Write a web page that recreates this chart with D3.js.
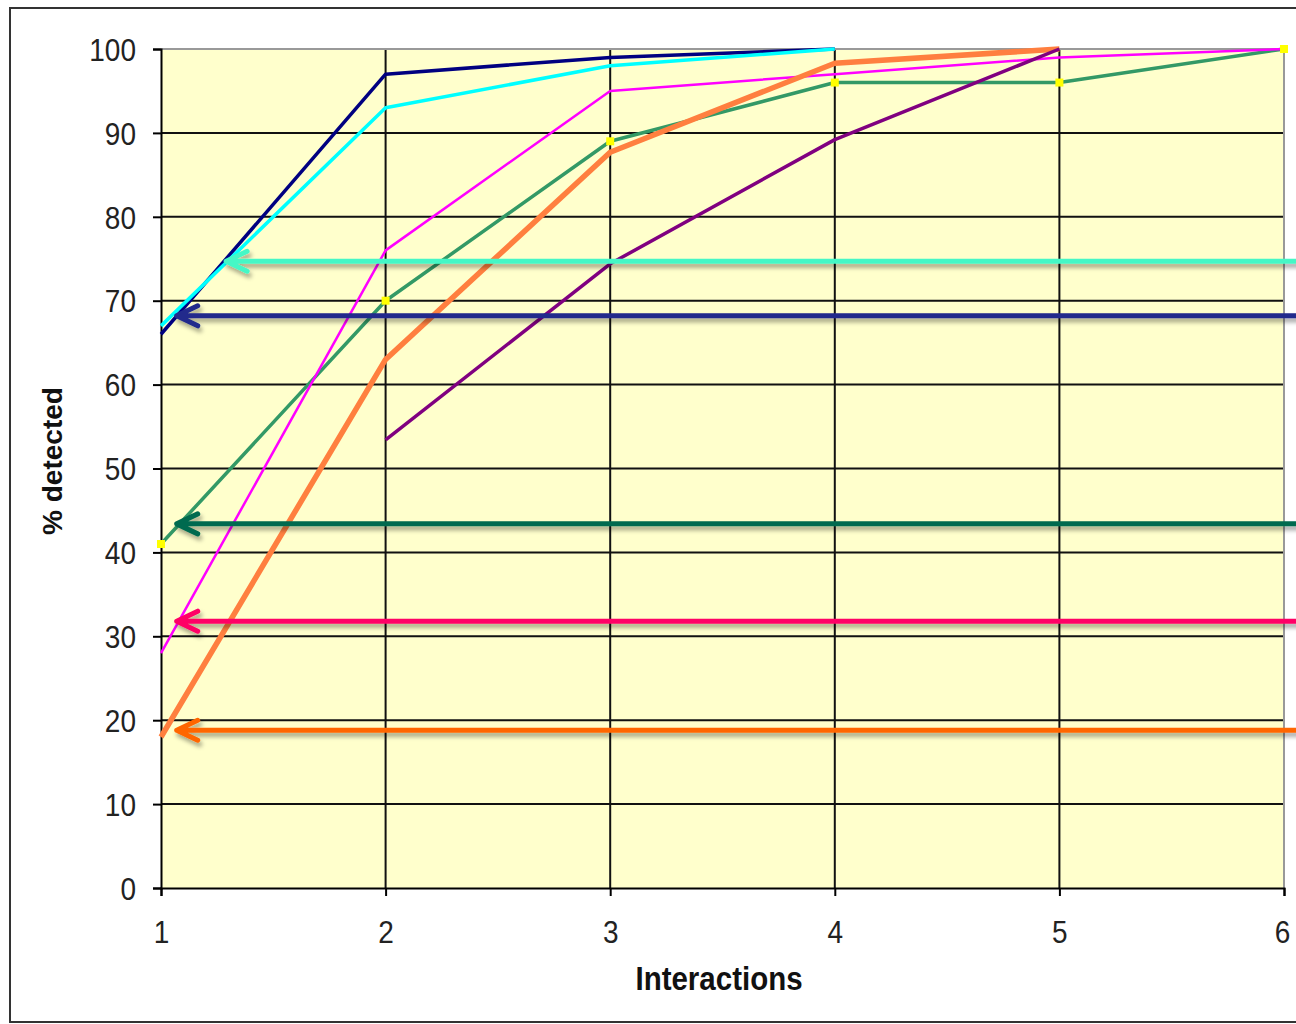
<!DOCTYPE html>
<html><head><meta charset="utf-8">
<script src="https://cdn.jsdelivr.net/npm/d3@7"></script>
<style>html,body{margin:0;padding:0;background:#fff;overflow:hidden}</style>
</head><body>
<svg id="c" width="1296" height="1024"></svg>
<script>
// ---- data ----
const interactions = [1, 2, 3, 4, 5, 6];
const yTicks = [0, 10, 20, 30, 40, 50, 60, 70, 80, 90, 100];
const navySeries    = [66, 97, 99, 100];
const cyanSeries    = [67, 93, 98, 100];
const magentaSeries = [28, 76, 95, 97, 99, 100];
const greenSeries   = [41, 70, 89, 96, 96, 100];
const orangeSeries  = [18, 63, 87.7, 98.3, 100];
const purpleX       = [2, 3, 4, 5];
const purpleSeries  = [53.4, 74.4, 89.2, 100];
// annotation arrows: level (% detected) and tip position (interactions)
const arrowLevels = [74.7, 68.2, 43.4, 31.8, 18.8];
const arrowTips   = [1.29, 1.07, 1.07, 1.07, 1.07];
const arrowColors = ["#44F7C6", "#202A8C", "#006B50", "#FF0066", "#FF6600"];

const svg = d3.select("#c");
const x = d3.scaleLinear().domain([1, 6]).range([161, 1284]);
const y = d3.scaleLinear().domain([0, 100]).range([888, 49]);

const defs = svg.append("defs");
const f = defs.append("filter").attr("id","sh").attr("x","-5%").attr("y","-200%").attr("width","110%").attr("height","500%");
f.append("feDropShadow").attr("dx",2).attr("dy",4).attr("stdDeviation",2.2).attr("flood-color","#000").attr("flood-opacity",0.35);

// outer frame
svg.append("rect").attr("x",10).attr("y",8).attr("width",1300).attr("height",1014)
  .attr("fill","#fff").attr("stroke","#333").attr("stroke-width",2);

// plot background
svg.append("rect").attr("x",x(1)).attr("y",y(100)).attr("width",x(6)-x(1)).attr("height",y(0)-y(100))
  .attr("fill","#FFFFCC");

// grid
const g = svg.append("g");
g.selectAll(".hg").data(yTicks.filter(d=>d>0 && d<100)).enter().append("line")
  .attr("x1",x(1)).attr("x2",x(6)).attr("y1",d=>y(d)).attr("y2",d=>y(d))
  .attr("stroke","#111").attr("stroke-width",2);
g.selectAll(".vg").data(interactions.filter(d=>d>1 && d<6)).enter().append("line")
  .attr("y1",y(0)).attr("y2",y(100)).attr("x1",d=>x(d)).attr("x2",d=>x(d))
  .attr("stroke","#111").attr("stroke-width",2);
// top/right border gray
svg.append("path").attr("d",`M${x(1)},${y(100)}H${x(6)}V${y(0)}`).attr("fill","none").attr("stroke","#999").attr("stroke-width",2);

// axes
const yAxis = d3.axisLeft(y).tickValues(yTicks).tickSize(8).tickFormat(d3.format("d"));
const xAxis = d3.axisBottom(x).tickValues(interactions).tickSize(8).tickFormat(d3.format("d"));
const ya = svg.append("g").attr("transform",`translate(${x(1)},0)`).call(yAxis);
const xa = svg.append("g").attr("transform",`translate(0,${y(0)})`).call(xAxis);
[ya, xa].forEach(a=>{
  a.select(".domain").attr("stroke","#000").attr("stroke-width",2);
  a.selectAll(".tick line").attr("stroke","#000").attr("stroke-width",2);
  a.selectAll("text").attr("font-family","Liberation Sans, Arial, sans-serif").attr("font-size",28).attr("fill","#222");
});
ya.selectAll("text").attr("x",-25).attr("dy",null).attr("y",0).attr("dominant-baseline","central")
  .attr("transform","scale(1,1.15)");
xa.selectAll("text").attr("dy",null).attr("y",0).attr("dominant-baseline","central")
  .attr("transform","translate(0,44) scale(1,1.15)");
xa.selectAll(".tick").filter(d=>d===6).select("text").attr("dx",-2);

// series lines
const line = d3.line().x(d=>x(d[0])).y(d=>y(d[1]));
const pairs = (xs, ys) => ys.map((v,i)=>[xs[i], v]);
const series = [
  {data: pairs(interactions, navySeries), color:"#000080", w:3.5},
  {data: pairs(interactions, cyanSeries), color:"#00FFFF", w:3.5},
  {data: pairs(interactions, greenSeries), color:"#339966", w:3.5},
  {data: pairs(interactions, magentaSeries), color:"#FF00FF", w:2.5},
  {data: pairs(interactions, orangeSeries), color:"#FF7F3F", w:5.5},
  {data: pairs(purpleX, purpleSeries), color:"#800080", w:3.5}
];
series.forEach(s=>{
  svg.append("path").datum(s.data).attr("d",line).attr("fill","none")
    .attr("stroke",s.color).attr("stroke-width",s.w).attr("stroke-linejoin","round");
});
// yellow markers on green series
svg.selectAll(".mk").data(pairs(interactions, greenSeries)).enter().append("rect")
  .attr("x",d=>x(d[0])-4).attr("y",d=>y(d[1])-4).attr("width",8).attr("height",8).attr("fill","#FFFF00");

// annotation arrows
const ag = svg.append("g").attr("filter","url(#sh)");
arrowLevels.forEach((lv,i)=>{
  const yy = y(lv), tx = x(arrowTips[i]);
  ag.append("path")
    .attr("d",`M1300,${yy}H${tx} M${tx+21},${yy-10}L${tx},${yy}L${tx+21},${yy+10}`)
    .attr("fill","none").attr("stroke",arrowColors[i]).attr("stroke-width",5)
    .attr("stroke-linecap","round").attr("stroke-linejoin","round");
});

// axis titles
svg.append("text").attr("transform","translate(719,978) scale(1,1.15)")
  .attr("text-anchor","middle").attr("dominant-baseline","central")
  .attr("font-family","Liberation Sans, Arial, sans-serif").attr("font-weight","bold")
  .attr("font-size",29.5).attr("fill","#111").text("Interactions");
svg.append("text").attr("transform","translate(52,461) rotate(-90)")
  .attr("text-anchor","middle").attr("dominant-baseline","central")
  .attr("font-family","Liberation Sans, Arial, sans-serif").attr("font-weight","bold")
  .attr("font-size",28).attr("fill","#111").text("% detected");
</script>
</body></html>
